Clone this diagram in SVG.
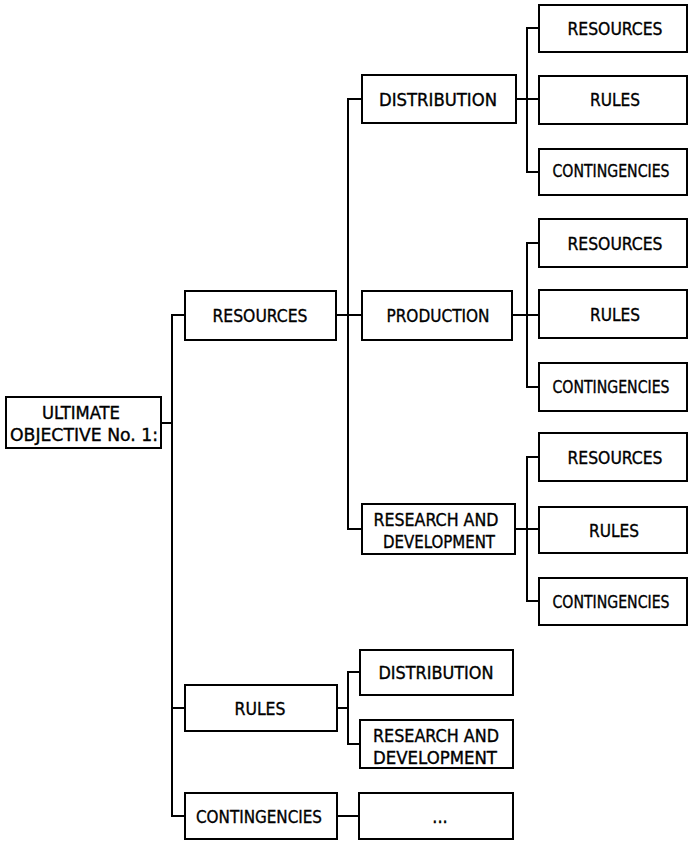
<svg xmlns="http://www.w3.org/2000/svg" width="688" height="844" viewBox="0 0 688 844">
  <style>
    .box { fill: #fff; stroke: #000; stroke-width: 2; }
    .lbl { font-family: "DejaVu Sans Condensed", "DejaVu Sans", sans-serif; font-size: 18px; fill: #000; stroke: #000; stroke-width: 0.35; text-anchor: middle; }
    .wire { fill: none; stroke: #000; stroke-width: 2; }
  </style>
  <rect width="688" height="844" fill="#fff"/>

  <g id="connectors" class="wire">
    <!-- root to first level -->
    <path d="M161 423 H172"/>
    <path d="M185 315 H172 V816 H185"/>
    <path d="M172 708 H185"/>
    <!-- resources to second level -->
    <path d="M336 315 H362"/>
    <path d="M362 99 H348 V529 H362"/>
    <!-- distribution children -->
    <path d="M516 99 H539"/>
    <path d="M539 28 H527 V172 H539"/>
    <!-- production children -->
    <path d="M512 315 H539"/>
    <path d="M539 243 H527 V387 H539"/>
    <!-- research and development children -->
    <path d="M515 529 H539"/>
    <path d="M539 457 H527 V601 H539"/>
    <!-- rules children -->
    <path d="M337 708 H348"/>
    <path d="M360 672 H348 V744 H360"/>
    <!-- contingencies -->
    <path d="M337 816 H359"/>
  </g>

  <g id="root">
    <rect class="box" x="6" y="397" width="155" height="51"/>
    <text class="lbl" x="81" y="419" textLength="78" lengthAdjust="spacingAndGlyphs">ULTIMATE</text>
    <text class="lbl" x="84" y="441" textLength="148" lengthAdjust="spacingAndGlyphs">OBJECTIVE No. 1:</text>
  </g>

  <g id="resources">
    <rect class="box" x="185" y="291" width="151" height="49"/>
    <text class="lbl" x="260" y="322" textLength="95" lengthAdjust="spacingAndGlyphs">RESOURCES</text>
  </g>
  <g id="rules">
    <rect class="box" x="185" y="685" width="152" height="46"/>
    <text class="lbl" x="260" y="715" textLength="51" lengthAdjust="spacingAndGlyphs">RULES</text>
  </g>
  <g id="contingencies">
    <rect class="box" x="185" y="793" width="152" height="46"/>
    <text class="lbl" x="259" y="823" textLength="126" lengthAdjust="spacingAndGlyphs">CONTINGENCIES</text>
  </g>

  <g id="distribution">
    <rect class="box" x="362" y="75" width="154" height="48"/>
    <text class="lbl" x="438" y="106" textLength="118" lengthAdjust="spacingAndGlyphs">DISTRIBUTION</text>
  </g>
  <g id="production">
    <rect class="box" x="362" y="291" width="150" height="49"/>
    <text class="lbl" x="438" y="322" textLength="103" lengthAdjust="spacingAndGlyphs">PRODUCTION</text>
  </g>
  <g id="research">
    <rect class="box" x="362" y="504" width="153" height="50"/>
    <text class="lbl" x="436" y="526" textLength="125" lengthAdjust="spacingAndGlyphs">RESEARCH AND</text>
    <text class="lbl" x="439" y="548" textLength="112" lengthAdjust="spacingAndGlyphs">DEVELOPMENT</text>
  </g>

  <g id="dist-resources">
    <rect class="box" x="539" y="5" width="148" height="47"/>
    <text class="lbl" x="615" y="35" textLength="95" lengthAdjust="spacingAndGlyphs">RESOURCES</text>
  </g>
  <g id="dist-rules">
    <rect class="box" x="539" y="76" width="148" height="48"/>
    <text class="lbl" x="615" y="106" textLength="50" lengthAdjust="spacingAndGlyphs">RULES</text>
  </g>
  <g id="dist-contingencies">
    <rect class="box" x="539" y="149" width="148" height="46"/>
    <text class="lbl" x="611" y="177" textLength="117" lengthAdjust="spacingAndGlyphs">CONTINGENCIES</text>
  </g>

  <g id="prod-resources">
    <rect class="box" x="539" y="219" width="148" height="48"/>
    <text class="lbl" x="615" y="250" textLength="95" lengthAdjust="spacingAndGlyphs">RESOURCES</text>
  </g>
  <g id="prod-rules">
    <rect class="box" x="539" y="290" width="148" height="48"/>
    <text class="lbl" x="615" y="321" textLength="50" lengthAdjust="spacingAndGlyphs">RULES</text>
  </g>
  <g id="prod-contingencies">
    <rect class="box" x="539" y="363" width="148" height="48"/>
    <text class="lbl" x="611" y="393" textLength="117" lengthAdjust="spacingAndGlyphs">CONTINGENCIES</text>
  </g>

  <g id="rd-resources">
    <rect class="box" x="539" y="433" width="148" height="48"/>
    <text class="lbl" x="615" y="464" textLength="95" lengthAdjust="spacingAndGlyphs">RESOURCES</text>
  </g>
  <g id="rd-rules">
    <rect class="box" x="539" y="507" width="148" height="46"/>
    <text class="lbl" x="614" y="537" textLength="50" lengthAdjust="spacingAndGlyphs">RULES</text>
  </g>
  <g id="rd-contingencies">
    <rect class="box" x="539" y="578" width="148" height="47"/>
    <text class="lbl" x="611" y="608" textLength="117" lengthAdjust="spacingAndGlyphs">CONTINGENCIES</text>
  </g>

  <g id="rules-distribution">
    <rect class="box" x="360" y="650" width="153" height="45"/>
    <text class="lbl" x="436" y="679" textLength="115" lengthAdjust="spacingAndGlyphs">DISTRIBUTION</text>
  </g>
  <g id="rules-research">
    <rect class="box" x="360" y="720" width="153" height="48"/>
    <text class="lbl" x="436" y="742" textLength="126" lengthAdjust="spacingAndGlyphs">RESEARCH AND</text>
    <text class="lbl" x="435" y="764" textLength="124" lengthAdjust="spacingAndGlyphs">DEVELOPMENT</text>
  </g>

  <g id="contingencies-more">
    <rect class="box" x="359" y="793" width="154" height="46"/>
    <text class="lbl" x="440" y="823">...</text>
  </g>
</svg>
